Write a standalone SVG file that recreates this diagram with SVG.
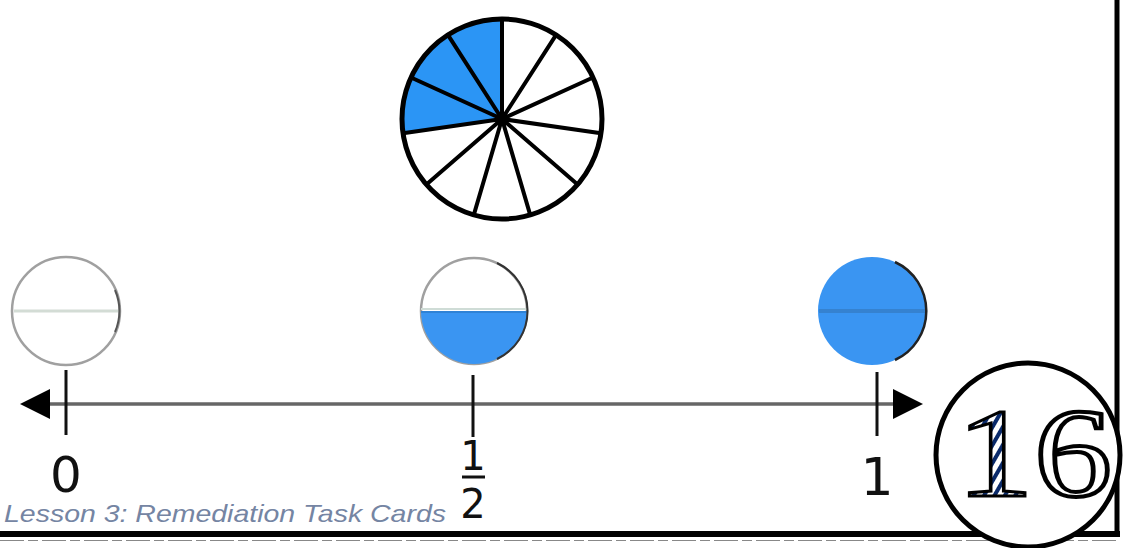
<svg xmlns="http://www.w3.org/2000/svg" width="1125" height="548" viewBox="0 0 1125 548">
<defs>
<style>
.spoke{stroke:#000;stroke-width:4;stroke-linecap:round}
.tick{stroke:#111;stroke-width:3}
.num{font-family:"DejaVu Sans",sans-serif;fill:#111;text-anchor:middle}
.small{stroke:#a0a0a0;stroke-width:2.5}
</style>
<pattern id="hatch" width="9" height="9" patternUnits="userSpaceOnUse" patternTransform="rotate(30)">
<rect width="9" height="9" fill="#fff"/>
<rect width="4" height="9" fill="#0a2a6a"/>
</pattern>
</defs>
<rect width="1125" height="548" fill="#fff"/>

<g id="pie">
<path d="M502,119 L403.0,133.2 A100,100 0 0 1 502,19 Z" fill="#2b95f5"/>
<line class="spoke" x1="502" y1="119" x2="502" y2="19"/>
<line class="spoke" x1="502" y1="119" x2="556.1" y2="34.9"/>
<line class="spoke" x1="502" y1="119" x2="593.0" y2="77.5"/>
<line class="spoke" x1="502" y1="119" x2="601.0" y2="133.2"/>
<line class="spoke" x1="502" y1="119" x2="577.6" y2="184.5"/>
<line class="spoke" x1="502" y1="119" x2="530.2" y2="214.9"/>
<line class="spoke" x1="502" y1="119" x2="473.8" y2="214.9"/>
<line class="spoke" x1="502" y1="119" x2="426.4" y2="184.5"/>
<line class="spoke" x1="502" y1="119" x2="403.0" y2="133.2"/>
<line class="spoke" x1="502" y1="119" x2="411.0" y2="77.5"/>
<line class="spoke" x1="502" y1="119" x2="447.9" y2="34.9"/>
<circle cx="502" cy="119" r="7" fill="#000"/>
<circle cx="502" cy="119" r="100" fill="none" stroke="#000" stroke-width="5"/>
</g>

<g id="circle-zero">
<circle cx="66" cy="311" r="54" fill="#fff" class="small"/>
<line x1="14" y1="311" x2="120" y2="311" stroke="#d3dcd5" stroke-width="3"/>
<path d="M115,290 A54,54 0 0 1 115,332" fill="none" stroke="#555" stroke-width="2"/>
</g>

<g id="circle-half">
<circle cx="474" cy="311" r="53" fill="#fff" class="small"/>
<path d="M421,311 A53,53 0 0 0 527,311 Z" fill="#3a95f2"/>
<line x1="421" y1="309" x2="527" y2="309" stroke="#cfdcd6" stroke-width="2"/>
<line x1="421" y1="312" x2="527" y2="312" stroke="#2f82d6" stroke-width="2"/>
<path d="M497,263 A53,53 0 0 1 497,359" fill="none" stroke="#333" stroke-width="2"/>
</g>

<g id="circle-one">
<circle cx="872" cy="311" r="54" fill="#3a95f2"/>
<line x1="819" y1="311" x2="925" y2="311" stroke="#3582d0" stroke-width="4"/>
<path d="M895,262 A54,54 0 0 1 895,360" fill="none" stroke="#222" stroke-width="2.5"/>
</g>

<g id="connectors">
<line x1="40" y1="404" x2="905" y2="404" stroke="#666" stroke-width="3.5"/>
<polygon points="20,404 50,389 50,419" fill="#000"/>
<polygon points="923,404 893,389 893,419" fill="#000"/>
</g>

<g id="ticks">
<line class="tick" x1="66" y1="370" x2="66" y2="435"/>
<line class="tick" x1="473" y1="375" x2="473" y2="437"/>
<line class="tick" x1="877" y1="372" x2="877" y2="436"/>
</g>

<g id="labels">
<text class="num" x="66" y="492" font-size="50">0</text>
<text class="num" x="877" y="495" font-size="52">1</text>
<text class="num" x="473" y="470" font-size="40">1</text>
<line x1="462" y1="477" x2="485" y2="477" stroke="#111" stroke-width="3"/>
<text class="num" x="473" y="518" font-size="40">2</text>
</g>

<g id="footer">
<text x="4" y="522" font-family="Liberation Sans, Arial, sans-serif" font-style="italic" font-size="24" fill="#7585a3" textLength="442" lengthAdjust="spacingAndGlyphs">Lesson 3: Remediation Task Cards</text>
</g>

<g id="border">
<line x1="0" y1="534" x2="1120" y2="534" stroke="#000" stroke-width="6"/>
<line x1="0" y1="540.5" x2="1120" y2="540.5" stroke="#888" stroke-width="1" stroke-dasharray="24,4,10,4"/>
<line x1="1117" y1="0" x2="1117" y2="537" stroke="#000" stroke-width="5"/>
</g>

<g id="badge">
<circle cx="1028" cy="455" r="92" fill="#fff" stroke="#000" stroke-width="5"/>
<text x="956" y="496" font-family="Liberation Serif, serif" font-size="128" textLength="156" lengthAdjust="spacingAndGlyphs"><tspan fill="url(#hatch)" stroke="#000" stroke-width="3">1</tspan><tspan fill="#fff" stroke="#000" stroke-width="4">6</tspan></text>
</g>
</svg>
